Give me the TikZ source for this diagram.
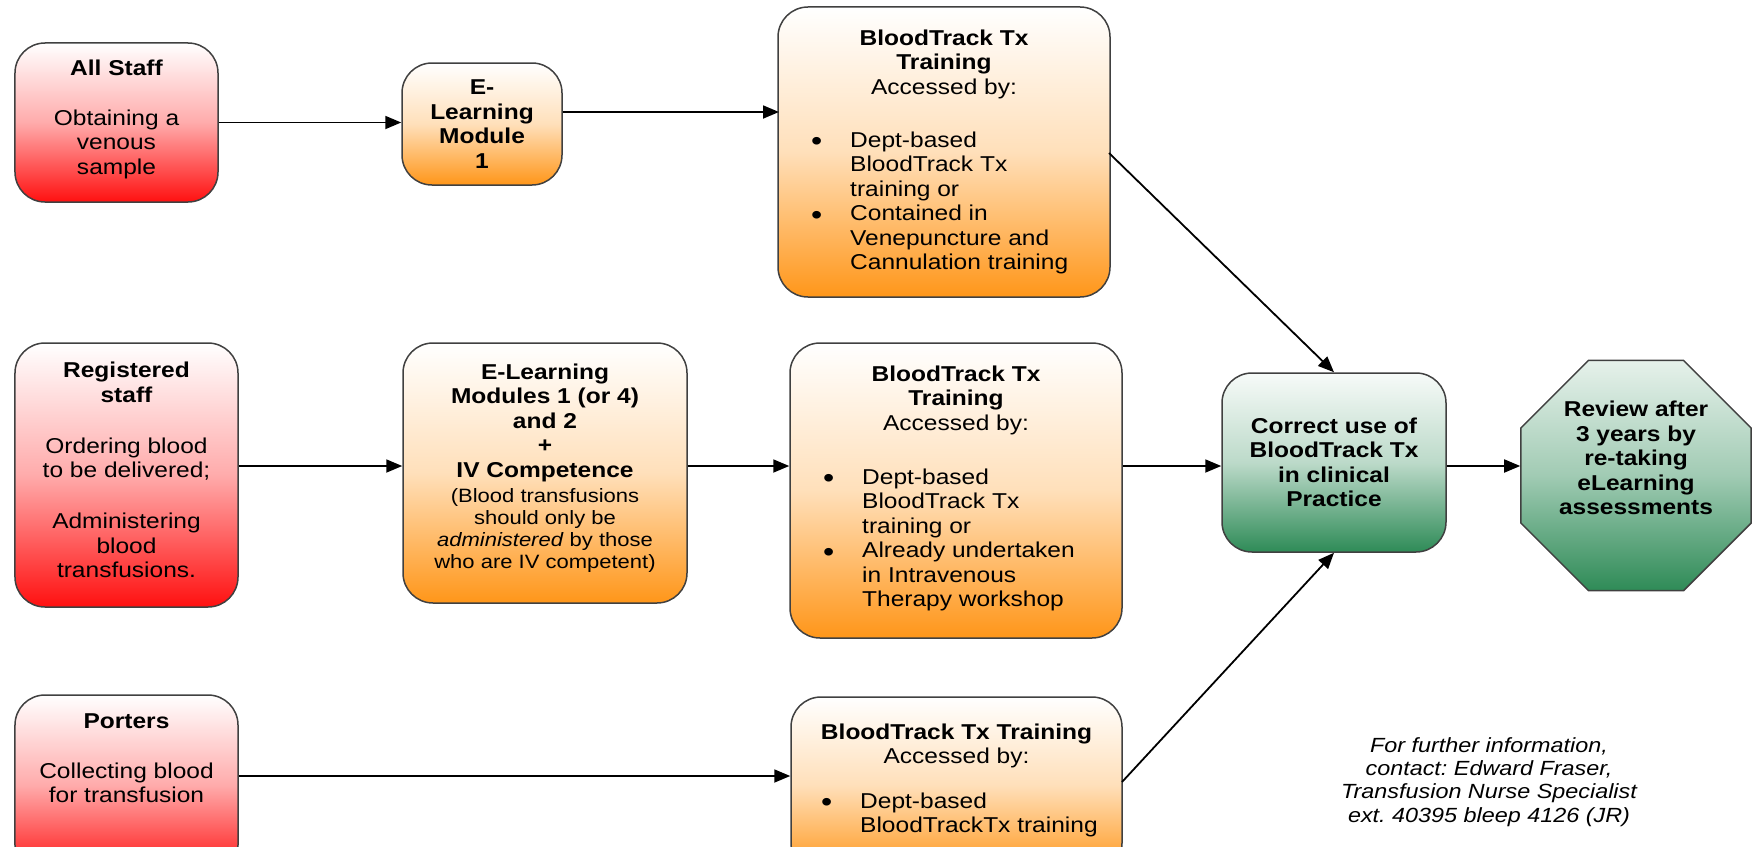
\documentclass[tikz,border=0pt]{standalone}
\usepackage{fontspec}
\setmainfont{Liberation Sans}[FakeStretch=1.14]
\usetikzlibrary{arrows.meta,shapes.geometric}
\frenchspacing
\definecolor{redB}{HTML}{FF1010}
\definecolor{orgB}{HTML}{FF9619}
\definecolor{grnB}{HTML}{2E8B57}
\definecolor{bordC}{HTML}{404040}
\newcommand\fsz{\fontsize{21.5bp}{24.5bp}\selectfont}
\newcommand\fsm{\fontsize{19.3bp}{21.7bp}\selectfont}
\newcommand\fsf{\fontsize{20.5bp}{23.3bp}\selectfont}
\newcommand\bul{\makebox[39bp][l]{\raisebox{-3.5bp}{\scalebox{1.3}{\textbullet}}}}
\newcommand\ind{\hspace*{39bp}}
\begin{document}
\begin{tikzpicture}[x=1bp,y=-1bp,
  box/.style={draw=bordC, line width=1.5bp, rounded corners=30bp, inner sep=0pt, align=center, font=\fsz},
  redbox/.style={box, top color=white, bottom color=redB, middle color=redB!35!white},
  orgbox/.style={box, top color=white, bottom color=orgB, middle color=orgB!30!white},
  grnbox/.style={box, top color=white!96!grnB, bottom color=grnB, middle color=grnB!32!white},
  txt/.style={inner sep=0pt, align=center, font=\fsz},
  arr/.style={draw=black, line width=1.8bp, -{Triangle[length=16bp,width=13bp]}}
]
\useasboundingbox (0,0) rectangle (1763,847);
\clip (0,0) rectangle (1763,847);

% left column
\node[redbox, minimum width=203bp, minimum height=159bp] (allstaff) at (116.5,122.5) {};
\node[txt] (allstaffT) at (116.5,119) {\textbf{All Staff}\\[25.5bp]Obtaining a\\venous\\sample};

\node[redbox, minimum width=223bp, minimum height=264bp] (reg) at (126.5,475) {};
\node[txt] (regT) at (126.5,470) {\textbf{Registered}\\\textbf{staff}\\[26.5bp]Ordering blood\\to be delivered;\\[26.5bp]Administering\\blood\\transfusions.};

\node[redbox, minimum width=223bp, minimum height=180bp] (porters) at (126.5,785) {};
\node[txt] (portersT) at (126.5,758) {\textbf{Porters}\\[25.5bp]Collecting blood\\for transfusion};

% e-learning
\node[orgbox, minimum width=160bp, minimum height=122bp] (elm1) at (482,124) {\textbf{E-}\\\textbf{Learning}\\\textbf{Module}\\\textbf{1}};

\node[orgbox, minimum width=284bp, minimum height=260bp] (elm2) at (545,473) {};
\node[txt] (elm2T) at (545,422.5) {\textbf{E-Learning}\\\textbf{Modules 1 (or 4)}\\\textbf{and 2}\\\textbf{+}\\\textbf{IV Competence}};
\node[txt, font=\fsm] (elm2S) at (545,530.5) {(Blood transfusions\\should only be\\\textit{administered} by those\\who are IV competent)};

% BloodTrack boxes
\node[orgbox, minimum width=332bp, minimum height=290bp] (bt1) at (944,152) {};
\node[txt] (bt1T) at (944,64) {\textbf{BloodTrack Tx}\\\textbf{Training}\\Accessed by:};
\node[txt, anchor=west, align=left] (bt1L) at (811,203) {\bul Dept-based\\\ind BloodTrack Tx\\\ind training or\\\bul Contained in\\\ind Venepuncture and\\\ind Cannulation training};

\node[orgbox, minimum width=332bp, minimum height=295bp] (bt2) at (956,490.5) {};
\node[txt] (bt2T) at (956,400) {\textbf{BloodTrack Tx}\\\textbf{Training}\\Accessed by:};
\node[txt, anchor=west, align=left] (bt2L) at (823,540) {\bul Dept-based\\\ind BloodTrack Tx\\\ind training or\\\bul Already undertaken\\\ind in Intravenous\\\ind Therapy workshop};

\node[orgbox, minimum width=331bp, minimum height=176bp] (bt3) at (956.5,785) {};
\node[txt] (bt3T) at (956.5,746) {\textbf{BloodTrack Tx Training}\\Accessed by:};
\node[txt, anchor=west, align=left] (bt3L) at (821,815) {\bul Dept-based\\\ind BloodTrackTx training};

% outcome
\node[grnbox, minimum width=224bp, minimum height=179bp] (correct) at (1334,462.5) {\textbf{Correct use of}\\\textbf{BloodTrack Tx}\\\textbf{in clinical}\\\textbf{Practice}};

\node[draw=bordC, line width=1.5bp, regular polygon, regular polygon sides=8, minimum size=249bp, inner sep=0pt,
      top color=white!88!grnB, bottom color=grnB, middle color=grnB!45!white] (oct) at (1636,475.5) {};
\node[txt] (octT) at (1636,458) {\textbf{Review after}\\\textbf{3 years by}\\\textbf{re-taking}\\\textbf{eLearning}\\\textbf{assessments}};

\node[txt, font=\fsf] (foot) at (1489,782) {\itshape For further information,\\\itshape contact: Edward Fraser,\\\itshape Transfusion Nurse Specialist\\\itshape ext. 40395 bleep 4126 (JR)};

% connector coordinates
\coordinate (bt1in) at (779,112);
\coordinate (mrow) at (0,466);
\coordinate (prow) at (0,776);
\coordinate (bt1out) at (1109,153);
\coordinate (bt3out) at (1122,782);

% connectors
\draw[arr] (allstaff.east) -- (elm1.west |- allstaff.east);
\draw[arr] (elm1.east |- bt1in) -- (bt1in);
\draw[arr] (reg.east |- mrow) -- (elm2.west |- mrow);
\draw[arr] (elm2.east |- mrow) -- (bt2.west |- mrow);
\draw[arr] (bt2.east |- mrow) -- (correct.west |- mrow);
\draw[arr] (correct.east |- mrow) -- (oct.west |- mrow);
\draw[arr] (porters.east |- prow) -- (bt3.west |- prow);
\draw[arr] (bt1out) -- (correct.north);
\draw[arr] (bt3out) -- (correct.south);
\end{tikzpicture}
\end{document}
